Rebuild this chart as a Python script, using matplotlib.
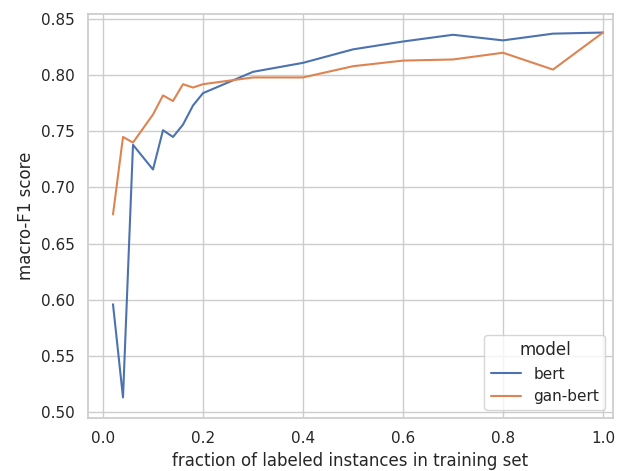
import numpy as np
import pandas as pd
import seaborn as sns
from matplotlib import pyplot as plt

frac = [0.02, 0.04, 0.06, 0.10, 0.12, 0.14, 0.16, 0.18, 0.20,
        0.3, 0.4, 0.5, 0.6, 0.7, 0.8, 0.9, 1.0]
bert = [0.596, 0.513, 0.738, 0.716, 0.751, 0.745, 0.756, 0.773, 0.784,
        0.803, 0.811, 0.823, 0.830, 0.836, 0.831, 0.837, 0.838]
gan_bert = [0.676, 0.745, 0.740, 0.765, 0.782, 0.777, 0.792, 0.789, 0.792,
            0.798, 0.798, 0.808, 0.813, 0.814, 0.820, 0.805, 0.838]

df = pd.DataFrame({
    'fraction of labeled instances in training set': frac * 2,
    'macro-F1 score': bert + gan_bert,
    'model': ['bert'] * len(frac) + ['gan-bert'] * len(frac),
})

sns.set_theme(style='whitegrid')
fig = plt.figure(figsize=(6.19, 4.71), dpi=100)
ax = fig.add_axes([88 / 619, 1 - 418 / 471, 525 / 619, 404 / 471])
sns.lineplot(data=df, x='fraction of labeled instances in training set',
             y='macro-F1 score', hue='model', ax=ax)
ax.set_xlim(-0.03, 1.02)
ax.set_ylim(0.4947, 0.8545)
ax.legend(title='model', loc='lower right')

plt.savefig('out.png')
